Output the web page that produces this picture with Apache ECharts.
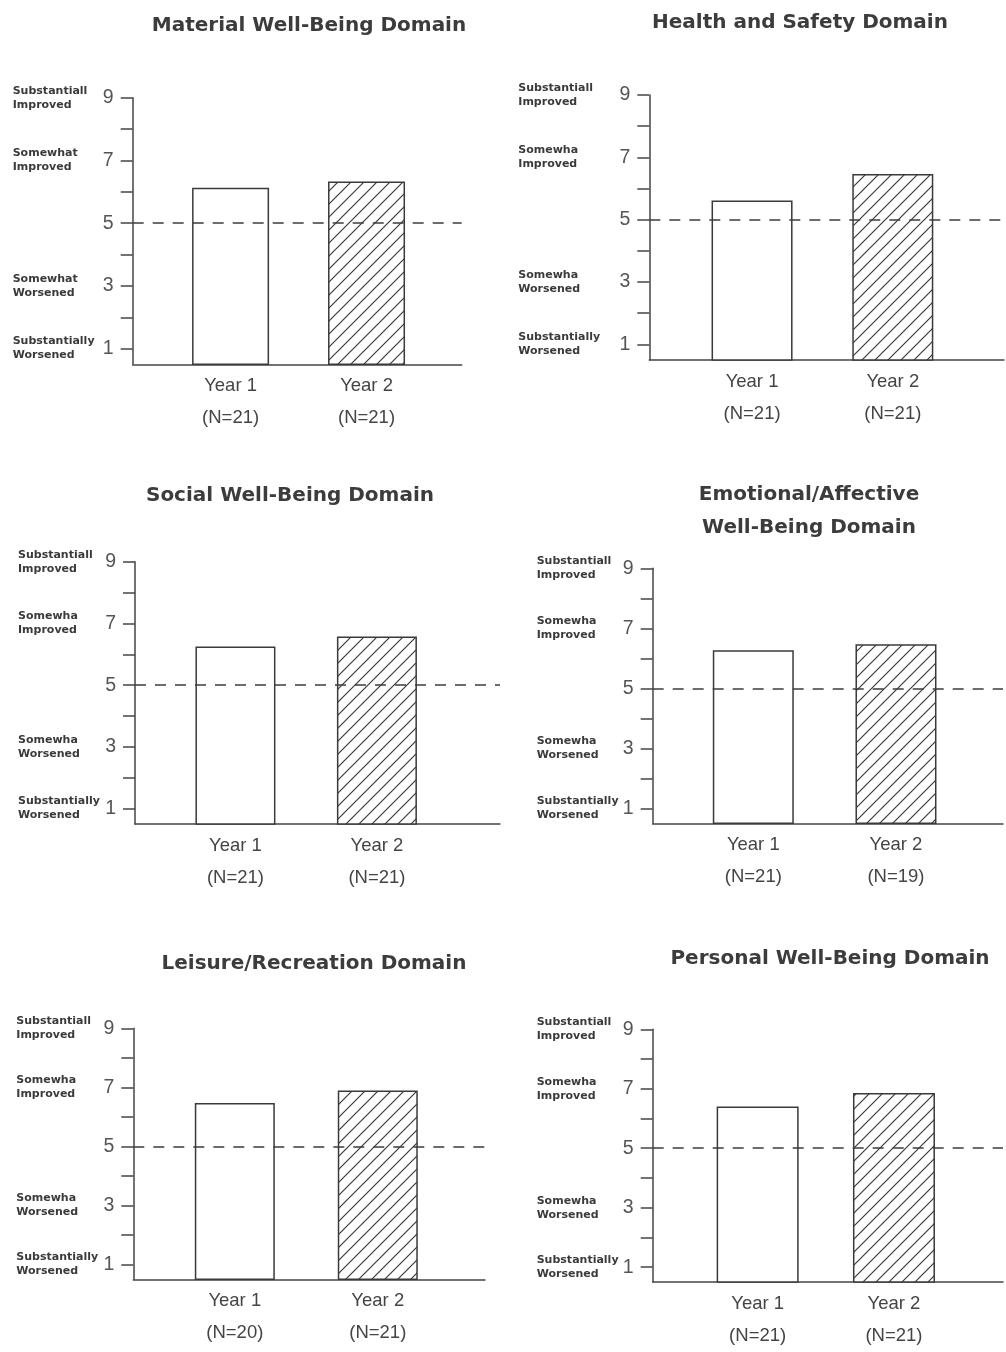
<!DOCTYPE html>
<html>
<head>
<meta charset="utf-8">
<script src="https://cdn.jsdelivr.net/npm/echarts@6/dist/echarts.min.js"></script>
<style>
html,body{margin:0;padding:0;background:#ffffff;}
#chart{width:1006px;height:1352px;}
</style>
</head>
<body>
<div id="chart"></div>
<script>
// ---------------- DATA ----------------
const categories = ['Year 1', 'Year 2'];
const domainTitles = [
  'Material Well-Being Domain',
  'Health and Safety Domain',
  'Social Well-Being Domain',
  'Emotional/Affective\nWell-Being Domain',
  'Leisure/Recreation Domain',
  'Personal Well-Being Domain'
];
const materialValues  = [6.13, 6.33];
const healthValues    = [5.62, 6.47];
const socialValues    = [6.25, 6.58];
const emotionalValues = [6.27, 6.47];
const leisureValues   = [6.47, 6.89];
const personalValues  = [6.40, 6.86];

const materialN  = [21, 21];
const healthN    = [21, 21];
const socialN    = [21, 21];
const emotionalN = [21, 19];
const leisureN   = [20, 21];
const personalN  = [21, 21];

const yTickValues  = [1, 2, 3, 4, 5, 6, 7, 8, 9];
const yLabelValues = [1, 3, 5, 7, 9];
const scaleTextValues = [1, 3, 7, 9];
const neutralValue = 5;
const scaleTextFirst = ['Substantially\nWorsened', 'Somewhat\nWorsened', 'Somewhat\nImproved', 'Substantiall\nImproved'];
const scaleTextOther = ['Substantially\nWorsened', 'Somewha\nWorsened', 'Somewha\nImproved', 'Substantiall\nImproved'];

// ---------------- LAYOUT ----------------
const panels = [
  {values: materialValues,  n: materialN,  scale: scaleTextFirst, left: 132.7, top: 97.7,   width: 329,   height: 266.6, xMin: 0.28,  xMax: 2.70, barW: 77, textMargin: 120, tx: 309, ty: 14,  tlh: 24},
  {values: healthValues,    n: healthN,    scale: scaleTextOther, left: 649.3, top: 95,     width: 354.7, height: 265,   xMin: 0.27,  xMax: 2.79, barW: 81, textMargin: 131, tx: 800, ty: 11,  tlh: 24},
  {values: socialValues,    n: socialN,    scale: scaleTextOther, left: 135,   top: 561.7,  width: 365,   height: 262.3, xMin: 0.29,  xMax: 2.87, barW: 80, textMargin: 117, tx: 290, ty: 484, tlh: 24},
  {values: emotionalValues, n: emotionalN, scale: scaleTextOther, left: 652.7, top: 568.3,  width: 350.3, height: 255,   xMin: 0.295, xMax: 2.75, barW: 81, textMargin: 116, tx: 809, ty: 478, tlh: 33},
  {values: leisureValues,   n: leisureN,   scale: scaleTextOther, left: 133.3, top: 1028.3, width: 351.7, height: 251,   xMin: 0.29,  xMax: 2.75, barW: 80, textMargin: 117, tx: 314, ty: 952, tlh: 24},
  {values: personalValues,  n: personalN,  scale: scaleTextOther, left: 652.7, top: 1029.3, width: 350.3, height: 260,   xMin: 0.23,  xMax: 2.80, barW: 82, textMargin: 116, tx: 830, ty: 947, tlh: 24}
];

function makeHatch() {
  const s = 13;
  const c = document.createElement('canvas');
  c.width = s; c.height = s;
  const g = c.getContext('2d');
  g.fillStyle = '#ffffff';
  g.fillRect(0, 0, s, s);
  g.strokeStyle = '#3a3a3a';
  g.lineWidth = 1.2;
  g.beginPath();
  g.moveTo(-1, s + 1); g.lineTo(s + 1, -1);
  g.moveTo(-1, 1); g.lineTo(1, -1);
  g.moveTo(s - 1, s + 1); g.lineTo(s + 1, s - 1);
  g.stroke();
  return c;
}
const hatchCanvas = makeHatch();

const axisColor = '#454545';
const option = {
  backgroundColor: '#ffffff',
  animation: false,
  title: [],
  grid: [],
  xAxis: [],
  yAxis: [],
  series: []
};

panels.forEach((p, i) => {
  option.title.push({
    text: domainTitles[i],
    left: p.tx,
    top: p.ty,
    textAlign: 'center',
    padding: 0,
    textStyle: {
      fontFamily: 'DejaVu Sans, sans-serif',
      fontSize: 20,
      fontWeight: 'bold',
      color: '#3c3c3c',
      lineHeight: p.tlh
    }
  });
  option.grid.push({left: p.left, top: p.top, width: p.width, height: p.height, containLabel: false});
  option.xAxis.push({
    type: 'value',
    gridIndex: i,
    min: p.xMin,
    max: p.xMax,
    splitLine: {show: false},
    axisTick: {show: false},
    axisLine: {show: true, onZero: false, lineStyle: {color: axisColor, width: 1.5}},
    axisLabel: {
      customValues: categories.map((c, j) => j + 1),
      formatter: (v) => {
        const j = Math.round(v) - 1;
        return categories[j] + '\n(N=' + p.n[j] + ')';
      },
      margin: 6,
      fontFamily: 'Liberation Sans, Arial, sans-serif',
      fontSize: 18.5,
      lineHeight: 32,
      color: '#444444'
    }
  });
  // numeric scale axis
  option.yAxis.push({
    type: 'value',
    gridIndex: i,
    min: 0.5,
    max: 9,
    position: 'left',
    offset: 0,
    splitLine: {show: false},
    axisLine: {show: true, lineStyle: {color: axisColor, width: 1.5}},
    axisTick: {show: true, customValues: yTickValues, length: 12, lineStyle: {color: axisColor, width: 1.5}},
    axisLabel: {
      customValues: yLabelValues,
      margin: 19,
      fontFamily: 'Liberation Sans, Arial, sans-serif',
      fontSize: 19.5,
      color: '#555555'
    }
  });
  // descriptive scale text axis
  option.yAxis.push({
    type: 'value',
    gridIndex: i,
    min: 0.5,
    max: 9,
    position: 'left',
    offset: 0,
    splitLine: {show: false},
    axisLine: {show: false},
    axisTick: {show: false},
    axisLabel: {
      customValues: scaleTextValues,
      formatter: (v) => p.scale[scaleTextValues.indexOf(Math.round(v))],
      align: 'left',
      margin: p.textMargin,
      fontFamily: 'DejaVu Sans, sans-serif',
      fontSize: 11,
      fontWeight: 'bold',
      lineHeight: 14,
      color: '#3a3a3a'
    }
  });
  option.series.push({
    type: 'bar',
    xAxisIndex: i,
    yAxisIndex: i * 2,
    barWidth: p.barW,
    z: 2,
    data: p.values.map((v, j) => ({
      value: [j + 1, v],
      itemStyle: j === 0
        ? {color: '#ffffff', borderColor: '#3a3a3a', borderWidth: 1.5}
        : {color: {image: hatchCanvas, repeat: 'repeat'}, borderColor: '#3a3a3a', borderWidth: 1.5}
    })),
    markLine: {
      silent: true,
      symbol: 'none',
      z: 5,
      label: {show: false},
      lineStyle: {color: '#3c3c3c', type: [11, 9], width: 1.5},
      data: [{yAxis: neutralValue}]
    }
  });
});

const chart = echarts.init(document.getElementById('chart'), null, {renderer: 'canvas'});
chart.setOption(option);
</script>
</body>
</html>
